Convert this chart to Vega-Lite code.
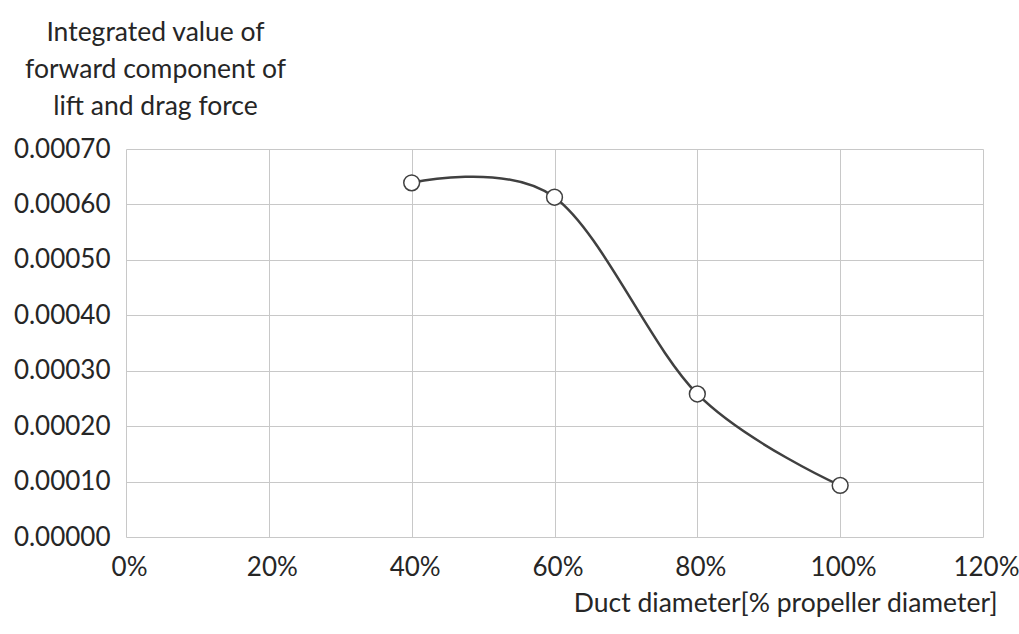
{
  "$schema": "https://vega.github.io/schema/vega-lite/v6.json",
  "width": 857,
  "height": 388,
  "autosize": {"type": "none"},
  "padding": {"left": 126, "top": 149, "right": 36, "bottom": 97},
  "background": "white",
  "config": {
    "font": "Lato",
    "view": {"stroke": null},
    "axis": {
      "labelFont": "Lato",
      "titleFont": "Lato",
      "labelFontSize": 26,
      "titleFontSize": 26.5,
      "labelColor": "#262626",
      "titleColor": "#262626",
      "titleFontWeight": "normal",
      "gridColor": "#c8c8c8",
      "gridWidth": 1,
      "domain": false,
      "ticks": false
    }
  },
  "data": {
    "values": [
      {"d": 0.4, "v": 0.000639},
      {"d": 0.6, "v": 0.000613},
      {"d": 0.8, "v": 0.000258},
      {"d": 1.0, "v": 0.000093}
    ]
  },
  "encoding": {
    "x": {
      "field": "d",
      "type": "quantitative",
      "scale": {"domain": [0, 1.2], "nice": false, "zero": false},
      "axis": {
        "values": [0, 0.2, 0.4, 0.6, 0.8, 1.0, 1.2],
        "format": ".0%",
        "labelFlush": false,
        "labelPadding": 17,
        "labelOffset": 3,
        "title": "Duct diameter[% propeller diameter]",
        "titleAlign": "right",
        "titleAnchor": null,
        "titleX": 871,
        "titleY": 74,
        "titleBaseline": "alphabetic"
      }
    },
    "y": {
      "field": "v",
      "type": "quantitative",
      "scale": {"domain": [0, 0.0007], "nice": false},
      "axis": {
        "values": [0, 0.0001, 0.0002, 0.0003, 0.0004, 0.0005, 0.0006, 0.0007],
        "format": ".5f",
        "labelPadding": 16,
        "title": ["Integrated value of", "forward component of", "lift and drag force"],
        "titleAngle": 0,
        "titleAlign": "center",
        "titleAnchor": null,
        "titleX": 29,
        "titleY": -109,
        "titleBaseline": "alphabetic",
        "titleLineHeight": 37
      }
    }
  },
  "layer": [
    {
      "mark": {"type": "line", "interpolate": "cardinal", "color": "#404040", "strokeWidth": 2.5}
    },
    {
      "mark": {"type": "point", "filled": false, "fill": "white", "fillOpacity": 1, "stroke": "#404040", "strokeWidth": 1.5, "size": 250, "opacity": 1}
    }
  ]
}
